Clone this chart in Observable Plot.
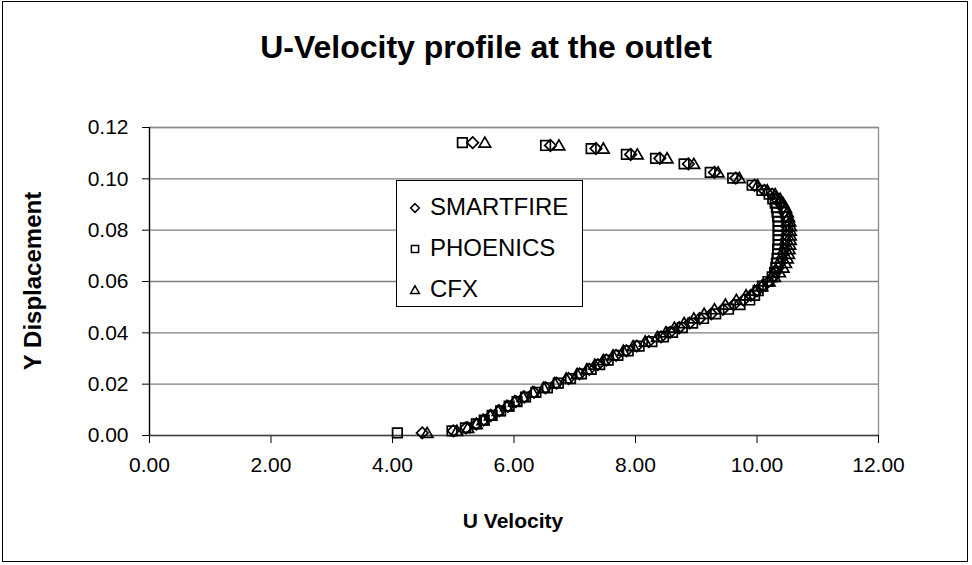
<!DOCTYPE html>
<html>
<head>
<meta charset="utf-8">
<script src="https://cdn.jsdelivr.net/npm/d3@7"></script>
<script src="https://cdn.jsdelivr.net/npm/@observablehq/plot@0.6"></script>
<style>
  html, body { margin: 0; padding: 0; background: #fff; }
  #wrap { position: relative; width: 972px; height: 565px; overflow: hidden; font-family: "Liberation Sans", Arial, sans-serif; }
  #border { position: absolute; left: 2px; top: 1px; width: 966px; height: 561px; border: 1px solid #000; box-sizing: border-box; }
  #title { position: absolute; left: 0; width: 972px; top: 28px; text-align: center; font-weight: bold; font-size: 32px; line-height: 38px; }
  #xlabel { position: absolute; left: 413px; width: 200px; top: 508px; text-align: center; font-weight: bold; font-size: 21px; line-height: 26px; }
  #ylabel { position: absolute; left: 33px; top: 281px; transform: translate(-50%, -50%) rotate(-90deg); white-space: nowrap; font-weight: bold; font-size: 24px; line-height: 28px; }
  #legend { position: absolute; left: 396px; top: 180px; width: 187px; height: 127px; border: 1px solid #000; background: #fff; box-sizing: border-box; font-size: 24px; }
  .item { position: absolute; left: 10px; height: 28px; line-height: 28px; white-space: nowrap; }
  .item svg { vertical-align: middle; margin-right: 7px; position: relative; top: -1px; }
  #chart { position: absolute; left: 0; top: 0; }
</style>
</head>
<body>
<div id="wrap">
  <div id="chart"></div>
  <div id="border"></div>
  <div id="title">U-Velocity profile at the outlet</div>
  <div id="xlabel">U Velocity</div>
  <div id="ylabel">Y Displacement</div>
  <div id="legend"></div>
</div>
<script>
// ---- data ----
const seriesNames = ["SMARTFIRE", "PHOENICS", "CFX"];
const yDisp = [0.1141, 0.1130, 0.1118, 0.1095, 0.1080, 0.1058, 0.1025, 0.1003, 0.0975, 0.0955,
  0.0940, 0.0922, 0.0905, 0.0888, 0.0870, 0.0852, 0.0834, 0.0816, 0.0798, 0.0780,
  0.0762, 0.0744, 0.0726, 0.0708, 0.0690, 0.0672, 0.0654, 0.0636, 0.0618, 0.0600,
  0.0582, 0.0564, 0.0546, 0.0528, 0.0510, 0.0492, 0.0474, 0.0456, 0.0438, 0.0420,
  0.0402, 0.0384, 0.0366, 0.0348, 0.0330, 0.0312, 0.0294, 0.0276, 0.0258, 0.0240,
  0.0222, 0.0204, 0.0186, 0.0168, 0.0150, 0.0132, 0.0114, 0.0096, 0.0078, 0.0060,
  0.0045, 0.0030, 0.0018, 0.0010];
const uPhoenics = [5.15, 6.52, 7.27, 7.85, 8.33, 8.80, 9.23, 9.60, 9.92, 10.08,
  10.20, 10.26, 10.30, 10.32, 10.33, 10.34, 10.35, 10.35, 10.35, 10.35,
  10.35, 10.35, 10.34, 10.34, 10.33, 10.32, 10.31, 10.29, 10.25, 10.18,
  10.09, 10.02, 9.96, 9.88, 9.72, 9.53, 9.32, 9.12, 8.94, 8.77,
  8.61, 8.46, 8.27, 8.06, 7.88, 7.71, 7.55, 7.41, 7.27, 7.11,
  6.93, 6.73, 6.55, 6.36, 6.19, 6.05, 5.92, 5.78, 5.64, 5.51,
  5.38, 5.20, 4.98, 4.08];
const uSmartfire = [5.32, 6.60, 7.35, 7.92, 8.40, 8.87, 9.30, 9.65, 9.96, 10.12,
  10.25, 10.32, 10.38, 10.42, 10.45, 10.47, 10.48, 10.48, 10.49, 10.48,
  10.47, 10.46, 10.45, 10.43, 10.41, 10.38, 10.35, 10.31, 10.26, 10.19,
  10.09, 10.00, 9.90, 9.78, 9.62, 9.44, 9.25, 9.06, 8.89, 8.72,
  8.57, 8.42, 8.22, 8.02, 7.85, 7.68, 7.52, 7.38, 7.24, 7.08,
  6.90, 6.70, 6.52, 6.33, 6.17, 6.03, 5.90, 5.76, 5.62, 5.50,
  5.38, 5.21, 5.00, 4.49];
const uCfx = [5.52, 6.74, 7.47, 8.03, 8.52, 8.96, 9.36, 9.71, 10.01, 10.17,
  10.30, 10.38, 10.43, 10.47, 10.50, 10.52, 10.54, 10.55, 10.55, 10.55,
  10.55, 10.54, 10.53, 10.52, 10.50, 10.47, 10.43, 10.37, 10.29, 10.20,
  10.08, 9.96, 9.82, 9.66, 9.48, 9.30, 9.13, 8.96, 8.80, 8.64,
  8.50, 8.36, 8.16, 7.96, 7.80, 7.63, 7.47, 7.33, 7.20, 7.04,
  6.86, 6.67, 6.49, 6.31, 6.15, 6.01, 5.88, 5.74, 5.61, 5.49,
  5.38, 5.24, 5.06, 4.57];
const xTicks = [0, 2, 4, 6, 8, 10, 12];
const yTicks = [0, 0.02, 0.04, 0.06, 0.08, 0.10, 0.12];

// ---- symbols (Excel-like hollow markers) ----
const diamondSym = { draw(ctx, size) { const r = Math.sqrt(size / Math.PI), h = 1.08 * r;
  ctx.moveTo(0, -h); ctx.lineTo(h, 0); ctx.lineTo(0, h); ctx.lineTo(-h, 0); ctx.closePath(); } };
const squareSym = { draw(ctx, size) { const r = Math.sqrt(size / Math.PI), h = 0.9 * r;
  ctx.moveTo(-h, -h); ctx.lineTo(h, -h); ctx.lineTo(h, h); ctx.lineTo(-h, h); ctx.closePath(); } };
const triangleSym = { draw(ctx, size) { const r = Math.sqrt(size / Math.PI), w = 1.1 * r;
  ctx.moveTo(0, -1.05 * r); ctx.lineTo(w, 0.85 * r); ctx.lineTo(-w, 0.85 * r); ctx.closePath(); } };

const mk = (us) => us.map((u, i) => ({ u, y: yDisp[i] }));
const dataS = mk(uSmartfire), dataP = mk(uPhoenics), dataC = mk(uCfx);
const dotOpts = { x: "u", y: "y", r: 5.3, fill: "none", stroke: "black", strokeWidth: 1.7 };
const fmt = d3.format(".2f");

const chart = Plot.plot({
  width: 972, height: 565,
  marginLeft: 149, marginRight: 94, marginTop: 127, marginBottom: 130,
  x: { domain: [0, 12] },
  y: { domain: [0, 0.12] },
  style: { fontFamily: "'Liberation Sans', Arial, sans-serif", fontSize: "21px", background: "transparent", color: "black" },
  marks: [
    Plot.ruleY(yTicks.slice(1), { stroke: "#7f7f7f", strokeWidth: 1.3 }),
    Plot.frame({ stroke: "#8c8c8c", strokeWidth: 1.3 }),
    Plot.axisX({ ticks: xTicks, tickFormat: fmt, tickSize: 8, tickPadding: 14, label: null, fontSize: 21, stroke: "black" }),
    Plot.axisY({ ticks: yTicks, tickFormat: fmt, tickSize: 7, tickPadding: 14, label: null, fontSize: 21, stroke: "black" }),
    Plot.ruleY([0], { stroke: "#404040", strokeWidth: 1.5 }),
    Plot.ruleX([0], { stroke: "black", strokeWidth: 1.3 }),
    Plot.dot(dataP, { ...dotOpts, symbol: squareSym }),
    Plot.dot(dataS, { ...dotOpts, symbol: diamondSym }),
    Plot.dot(dataC, { ...dotOpts, symbol: triangleSym })
  ]
});
document.getElementById("chart").appendChild(chart);

// ---- legend ----
const legSyms = [diamondSym, squareSym, triangleSym];
const legTops = [12, 53, 94];
const legend = document.getElementById("legend");
seriesNames.forEach((name, i) => {
  const div = document.createElement("div");
  div.className = "item";
  div.style.top = legTops[i] + "px";
  const path = d3.path();
  legSyms[i].draw(path, Math.PI * 4 * 4);
  div.innerHTML = `<svg width="16" height="16" viewBox="-8 -8 16 16"><path d="${path.toString()}" fill="none" stroke="black" stroke-width="1.5"/></svg>` + name;
  legend.appendChild(div);
});
</script>
</body>
</html>
